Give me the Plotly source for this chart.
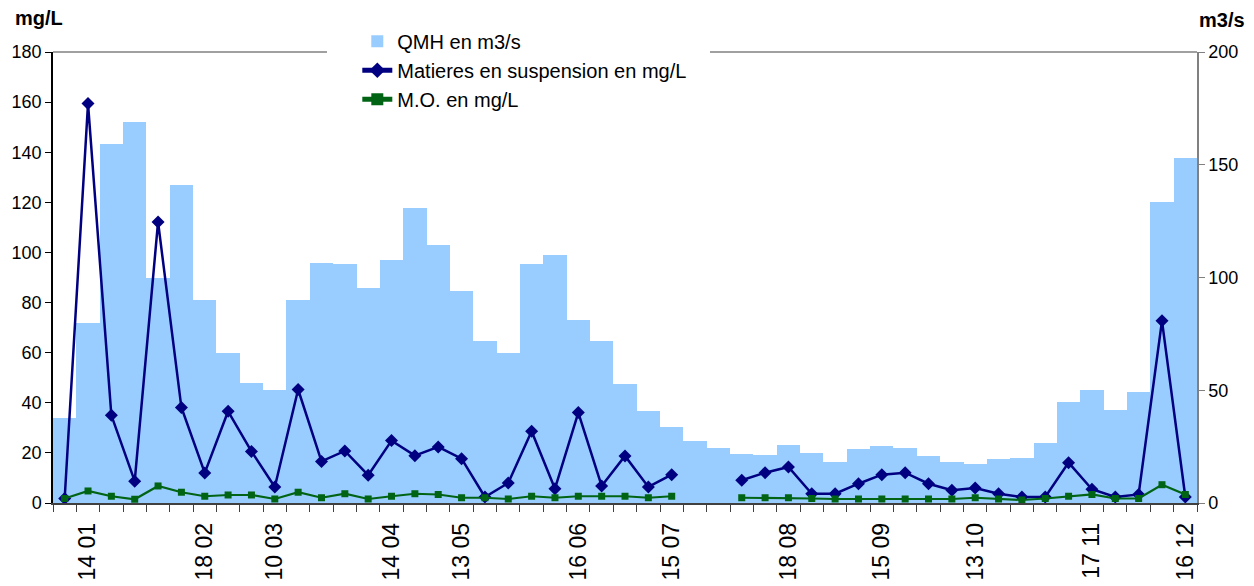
import plotly.graph_objects as go

# Dates (day month) - only some are labelled on the axis
dates = ["", "14 01", "", "", "", "", "18 02", "", "", "10 03",
         "", "", "", "", "14 04", "", "", "13 05", "", "",
         "", "", "16 06", "", "", "", "15 07", "", "", "",
         "", "18 08", "", "", "", "15 09", "", "", "", "13 10",
         "", "", "", "", "17 11", "", "", "", "16 12"]

# QMH en m3/s
qmh = [37.7, 79.8, 159.1, 168.9, 99.8, 140.9, 89.9, 66.5, 53.1, 50.0,
       89.9, 106.3, 105.9, 95.4, 107.7, 130.7, 114.3, 93.9, 71.7, 66.5,
       105.9, 109.8, 81.0, 71.7, 52.7, 40.7, 33.6, 27.4, 24.3, 21.7,
       21.3, 25.6, 22.0, 18.0, 23.8, 25.1, 24.3, 21.0, 18.0, 17.2,
       19.4, 19.8, 26.5, 44.7, 50.0, 41.1, 49.1, 133.7, 152.9]

# Matieres en suspension en mg/L
mes = [1.8, 159.4, 35.0, 8.7, 112.2, 38.1, 12.0, 36.6, 20.6, 6.4,
       45.3, 16.6, 20.8, 11.1, 24.9, 18.9, 22.4, 17.7, 2.4, 8.0,
       28.6, 5.7, 36.1, 6.8, 18.8, 6.4, 11.3, None, None, 9.1,
       12.1, 14.4, 3.7, 3.7, 7.7, 11.3, 12.1, 7.7, 5.1, 6.0,
       3.7, 2.4, 2.4, 16.1, 5.5, 2.4, 3.4, 72.7, 2.4]

# M.O. en mg/L
mo = [1.8, 4.8, 2.7, 1.5, 6.8, 4.3, 2.7, 3.2, 3.2, 1.6,
      4.3, 2.1, 3.7, 1.6, 2.7, 3.7, 3.4, 2.1, 2.1, 1.6,
      2.7, 2.1, 2.7, 2.7, 2.7, 2.1, 2.7, None, None, 2.1,
      2.1, 2.1, 1.8, 1.6, 1.6, 1.6, 1.6, 1.6, 1.6, 2.1,
      1.6, 1.2, 1.8, 2.7, 3.4, 1.8, 1.8, 7.3, 3.4]

n = len(dates)
x = list(range(n))
lab_idx = [i for i, d in enumerate(dates) if d]
font_name = "Liberation Sans, Arial, sans-serif"

fig = go.Figure()

# bars on primary axis (right side) so the lines on the overlay are drawn above
fig.add_trace(go.Bar(
    x=x, y=qmh, name="QMH en m3/s",
    marker=dict(color="#99CCFF", line=dict(width=0)),
    yaxis="y"
))
fig.add_trace(go.Scatter(
    x=x, y=mes, name="Matieres en suspension en mg/L",
    mode="lines+markers",
    line=dict(color="#000080", width=2.5),
    marker=dict(symbol="diamond", size=10, color="#000080"),
    yaxis="y2"
))
fig.add_trace(go.Scatter(
    x=x, y=mo, name="M.O. en mg/L",
    mode="lines+markers",
    line=dict(color="#006414", width=2.2),
    marker=dict(symbol="square", size=7, color="#006414"),
    yaxis="y2"
))

top_line = dict(color="#808080", width=1.5)

fig.update_layout(
    template="none",
    width=1254, height=586,
    margin=dict(l=53, r=57, t=52, b=83, autoexpand=False),
    paper_bgcolor="white",
    plot_bgcolor="white",
    bargap=0,
    font=dict(family=font_name, size=18, color="black"),
    showlegend=True,
    legend=dict(
        x=0.266, y=1.067, xanchor="left", yanchor="top",
        bgcolor="white", borderwidth=0,
        font=dict(size=20, family=font_name),
        tracegroupgap=0, itemsizing="constant",
    ),
    xaxis=dict(
        range=[-0.5, n - 0.5],
        tickmode="array", tickvals=lab_idx, ticktext=[dates[i] for i in lab_idx],
        tickangle=-90, tickfont=dict(size=23),
        ticks="", ticklabelstandoff=9,
        showline=True, linecolor="#404040", linewidth=1.5,
        showgrid=False, zeroline=False, automargin=False,
        minor=dict(tickmode="array", tickvals=[i - 0.5 for i in range(n + 1)],
                   ticks="outside", ticklen=7, tickcolor="#404040", showgrid=False),
    ),
    yaxis=dict(
        side="right", range=[0, 200], tickvals=[0, 50, 100, 150, 200],
        ticks="outside", ticklen=6, tickcolor="#808080",
        showline=True, linecolor="#808080", linewidth=1.5,
        showgrid=False, zeroline=False, automargin=False,
        tickfont=dict(size=18),
    ),
    yaxis2=dict(
        overlaying="y", side="left", range=[0, 180], dtick=20,
        ticks="outside", ticklen=6, tickcolor="black",
        showline=True, linecolor="black", linewidth=1.5,
        showgrid=False, zeroline=False, automargin=False,
        tickfont=dict(size=18),
    ),
    # top border, interrupted where the legend sits
    shapes=[
        dict(type="line", xref="paper", yref="paper", x0=0, x1=0.2395, y0=1, y1=1,
             line=top_line, layer="below"),
        dict(type="line", xref="paper", yref="paper", x0=0.5743, x1=1, y0=1, y1=1,
             line=top_line, layer="below"),
    ],
    annotations=[
        dict(text="<b>mg/L</b>", xref="paper", yref="paper", x=-0.035, y=1.075,
             xanchor="left", yanchor="middle", showarrow=False, font=dict(size=20)),
        dict(text="<b>m3/s</b>", xref="paper", yref="paper", x=1.0, y=1.07,
             xanchor="left", yanchor="middle", showarrow=False, font=dict(size=20)),
    ],
)

fig.write_html("out.html", config={"displayModeBar": False},
               post_script="document.body.style.margin='0';")
